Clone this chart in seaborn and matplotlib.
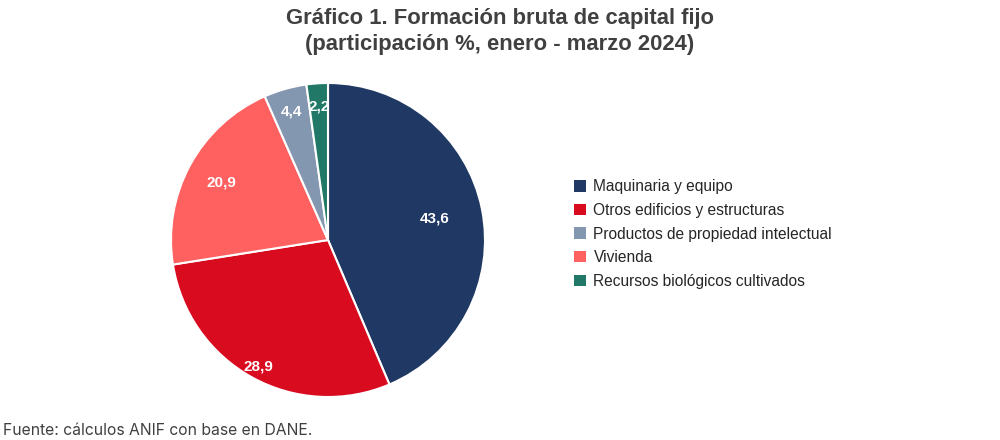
import numpy as np
import matplotlib
matplotlib.use("Agg")
import matplotlib.pyplot as plt
import seaborn as sns
from matplotlib.patches import Patch

# Datos (participación %, enero - marzo 2024), en el orden del gráfico
categorias = ["Maquinaria y equipo", "Otros edificios y estructuras", "Vivienda",
              "Productos de propiedad intelectual", "Recursos biológicos cultivados"]
valores = [43.6, 28.9, 20.9, 4.4, 2.2]
etiquetas = ["43,6", "28,9", "20,9", "4,4", "2,2"]

# Orden de la leyenda
orden_leyenda = ["Maquinaria y equipo", "Otros edificios y estructuras",
                 "Productos de propiedad intelectual", "Vivienda",
                 "Recursos biológicos cultivados"]

colores = {
    "Maquinaria y equipo": "#1F3864",
    "Otros edificios y estructuras": "#D90B1F",
    "Vivienda": "#FF6161",
    "Productos de propiedad intelectual": "#8497B0",
    "Recursos biológicos cultivados": "#217867",
}
# distancia radial de cada etiqueta (estilo)
dist_etiquetas = [0.69, 0.92, 0.77, 0.85, 0.85]

sns.set_theme(style="white")
plt.rcParams["font.family"] = ["Liberation Sans", "DejaVu Sans"]

fig = plt.figure(figsize=(10, 4.4), dpi=100)
ax = fig.add_axes([(328 - 157) / 1000, (440 - 397) / 440, 314 / 1000, 314 / 440])

wedges, _ = ax.pie(valores, colors=[colores[c] for c in categorias],
                   startangle=90, counterclock=False,
                   wedgeprops=dict(edgecolor="white", linewidth=1.5))
ax.set_xlim(-1.0, 1.0)
ax.set_ylim(-1.0, 1.0)
ax.set_aspect("equal")

for w, txt, d in zip(wedges, etiquetas, dist_etiquetas):
    ang = np.deg2rad((w.theta1 + w.theta2) / 2)
    ax.text(d * np.cos(ang), d * np.sin(ang), txt, ha="center", va="center",
            color="white", fontsize=11, fontweight="bold")

handles = [Patch(facecolor=colores[c], edgecolor="none") for c in orden_leyenda]
fig.legend(handles, orden_leyenda, loc="center left", bbox_to_anchor=(0.56, 0.468),
           frameon=False, fontsize=11.2, handlelength=0.75, handleheight=0.75,
           handletextpad=0.5, labelspacing=0.55, labelcolor="#262626")

fig.text(0.5, 0.958, "Gráfico 1. Formación bruta de capital fijo",
         ha="center", va="center", fontsize=15.8, fontweight="bold", color="#404040")
fig.text(0.5, 0.898, "(participación %, enero - marzo 2024)",
         ha="center", va="center", fontsize=15.8, fontweight="bold", color="#404040")

fig.text(0.003, 0.022, "Fuente: cálculos ANIF con base en DANE.", ha="left", va="center",
         fontsize=11.3, color="#404040", family=["Inter", "DejaVu Sans"])

fig.savefig("out.png", dpi=100)
